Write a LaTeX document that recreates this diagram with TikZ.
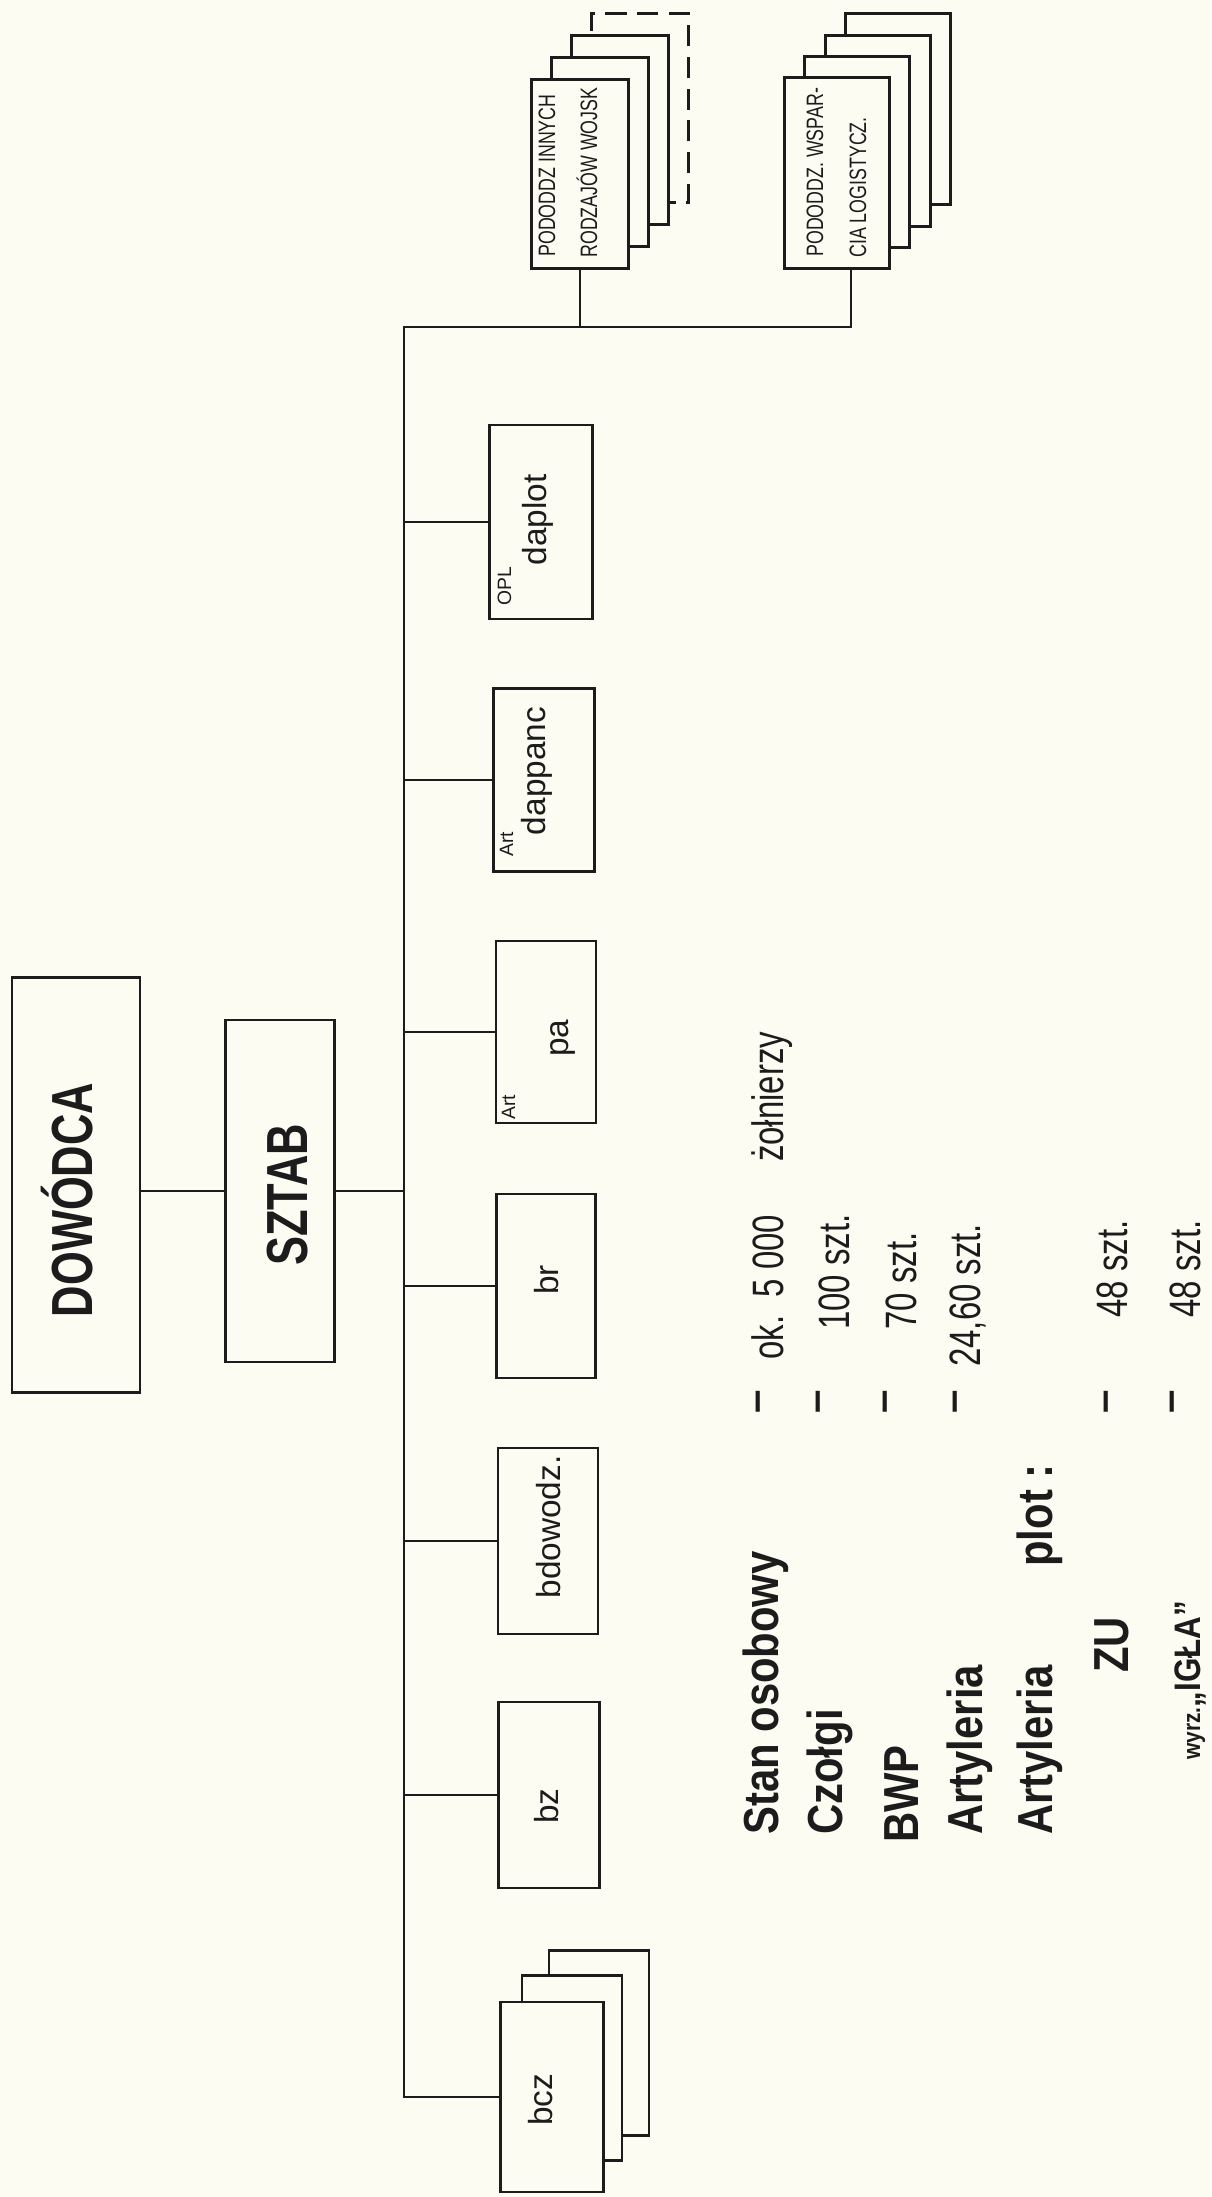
\documentclass[tikz,border=0pt]{standalone}
\usepackage{fontspec}
\setmainfont{Liberation Sans}
\newfontfamily\narrowhand{Liberation Sans}[FakeStretch=0.75]
\newfontfamily\labelhand{Liberation Sans}[FakeStretch=0.85]
\usetikzlibrary{positioning, calc}
\definecolor{paper}{HTML}{FCFCF3}
\definecolor{ink}{HTML}{1C1C1C}
\tikzset{
  bigbox/.style={draw=ink, line width=1.5pt, fill=paper, inner sep=0pt},
  unitbox/.style={draw=ink, line width=1.4pt, fill=paper, inner sep=0pt,
                  minimum width=2.02cm, minimum height=3.7cm},
  card/.style={draw=ink, line width=1.4pt, fill=paper, inner sep=0pt},
  link/.style={draw=ink, line width=1.1pt},
  % rotated texts, reading from bottom to top
  titletext/.style={rotate=90, inner sep=0pt, text=ink,
                    font=\narrowhand\bfseries\fontsize{33pt}{38pt}\selectfont},
  capsline/.style={rotate=90, inner sep=0pt, text=ink, anchor=base west,
                   font=\narrowhand\fontsize{13.5pt}{16pt}\selectfont},
  boxword/.style={rotate=90, inner sep=0pt, text=ink, anchor=base,
                  font=\fontsize{19pt}{22pt}\selectfont},
  pretext/.style={rotate=90, inner sep=0pt, text=ink, anchor=base west,
                  font=\fontsize{11pt}{13pt}\selectfont},
  lbl/.style={rotate=90, inner sep=0pt, text=ink, anchor=base west,
              font=\labelhand\bfseries\fontsize{28pt}{32pt}\selectfont},
  val/.style={rotate=90, inner sep=0pt, text=ink, anchor=base west,
              font=\narrowhand\fontsize{25pt}{28pt}\selectfont},
  dashmark/.style={rotate=90, inner sep=0pt, text=ink,
                   font=\bfseries\fontsize{24pt}{28pt}\selectfont}
}

\begin{document}
\begin{tikzpicture}[x=0.02cm, y=-0.02cm]

  \fill[paper] (0,0) rectangle (1211,2197);
  \useasboundingbox (0,0) rectangle (1211,2197);

  % ---- Command and staff ---------------------------------------------------
  \node[bigbox, minimum width=2.56cm, minimum height=8.3cm] (dowodca) at (76,1185) {};
  \node[titletext, anchor=base] (dowodca-t) at (92,1200) {DOWÓDCA};
  \node[bigbox, minimum width=2.18cm, minimum height=6.84cm] (sztab) at (280,1191) {};
  \node[titletext, anchor=base] (sztab-t) at (307,1195) {SZTAB};

  % ---- Bus corners ---------------------------------------------------------
  \coordinate (bustop) at (404,327);
  \coordinate (topend) at (851,327);

  % ---- Stacked subunits at the top -----------------------------------------
  \node[card, minimum width=1.94cm, minimum height=3.78cm,
        dash pattern=on 12pt off 6pt] (innych-4) at (640,108) {};
  \foreach \n/\cx/\cy in {innych-3/620/130, innych-2/600/152, innych/580/174}
    \node[card, minimum width=1.94cm, minimum height=3.78cm] (\n) at (\cx,\cy) {};
  \node[capsline] (innych-l1) at (555,257) {PODODDZ INNYCH};
  \node[capsline] (innych-l2) at (597,258) {RODZAJÓW WOJSK};

  \foreach \n/\cx/\cy in {wspar-4/898/109, wspar-3/878/131, wspar-2/857/152, wspar/837/173}
    \node[card, minimum width=2.1cm, minimum height=3.82cm] (\n) at (\cx,\cy) {};
  \node[capsline] (wspar-l1) at (823,257) {PODODDZ. WSPAR-};
  \node[capsline] (wspar-l2) at (866,258) {CIA LOGISTYCZ.};

  % ---- Subunits along the bus ----------------------------------------------
  \node[unitbox, minimum width=2.06cm, minimum height=3.88cm] (opl) at (541,522) {};
  \node[boxword] (opl-t) at (546,520) {daplot};
  \node[pretext] (opl-p) at (511,606) {OPL};

  \node[unitbox, minimum height=3.66cm] (dappanc) at (544,780) {};
  \node[boxword] (dappanc-t) at (545,771) {dappanc};
  \node[pretext] (dappanc-p) at (513,857) {Art};

  \node[unitbox, minimum width=2cm, minimum height=3.64cm] (pa) at (546,1032) {};
  \node[boxword] (pa-t) at (568,1038) {pa};
  \node[pretext] (pa-p) at (515,1120) {Art};

  \node[unitbox, minimum width=1.98cm, minimum height=3.68cm] (br) at (546,1286) {};
  \node[boxword] (br-t) at (558,1280) {br};

  \node[unitbox, minimum width=2cm, minimum height=3.72cm] (bdowodz) at (548,1541) {};
  \node[boxword] (bdowodz-t) at (560,1527) {bdowodz.};

  \node[unitbox, minimum height=3.72cm] (bz) at (549,1795) {};
  \node[boxword] (bz-t) at (558,1806) {bz};

  \foreach \n/\cx/\cy in {bcz-3/599/2043, bcz-2/572/2068}
    \node[card, minimum width=2cm, minimum height=3.7cm] (\n) at (\cx,\cy) {};
  \node[unitbox, minimum width=2.06cm, minimum height=3.8cm] (bcz) at (552,2097) {};
  \node[boxword] (bcz-t) at (552,2100) {bcz};

  % ---- Connectors ----------------------------------------------------------
  \draw[link] (sztab.west -| dowodca.east) -- (sztab.west);
  \draw[link] (sztab.east) -- (sztab.east -| bustop);
  \draw[link] (bcz.west) -| (bustop) -- (topend) -- (topend |- wspar.south);
  \draw[link] (innych.south) -- (innych.south |- bustop);
  \foreach \u in {opl, dappanc, pa, br, bdowodz, bz}
    \draw[link] (\u.west -| bustop) -- (\u.west);

  % ---- Strength table ------------------------------------------------------
  \node[lbl] (stan) at (778,1835) {Stan osobowy};
  \node[lbl] (czolgi) at (842,1835) {Czołgi};
  \node[lbl] (bwp) at (918,1843) {BWP};
  \node[lbl] (art) at (982,1835) {Artyleria};
  \node[lbl] (artplot) at (1052,1835) {Artyleria\qquad plot :};
  \node[lbl] (zu) at (1128,1673) {ZU};
  \node[lbl] (igla) at (1200,1760)
        {{\fontsize{14pt}{16pt}\selectfont wyrz.}{\fontsize{21pt}{24pt}\selectfont „IGŁA”}};

  \foreach \n/\lx in {1/763, 2/823, 3/890, 4/960, 6/1111, 7/1177}
    \node[dashmark] (dash-\n) at (\lx,1402) {–};

  \node[val] (stan-v) at (783,1360) {ok.\ \ 5\ 000\quad\ żołnierzy};
  \node[val] (czolgi-v) at (849,1330) {100 szt.};
  \node[val] (bwp-v) at (916,1330) {70 szt.};
  \node[val] (art-v) at (980,1367) {24,60 szt.};
  \node[val] (zu-v) at (1127,1318) {48 szt.};
  \node[val] (igla-v) at (1200,1318) {48 szt.};

\end{tikzpicture}
\end{document}
